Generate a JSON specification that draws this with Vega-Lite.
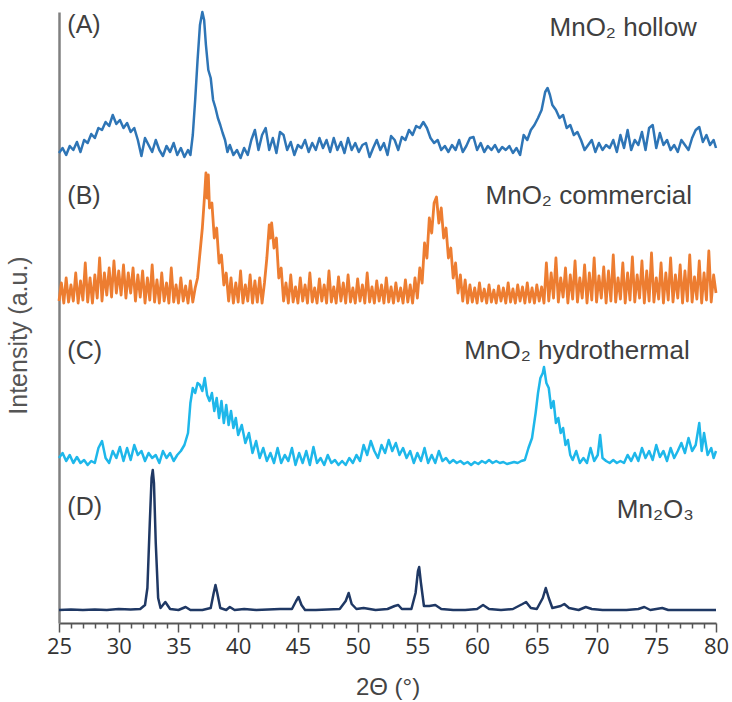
{
"$schema": "https://vega.github.io/schema/vega-lite/v6.json",
"width": 657, "height": 611,
"autosize": {"type": "none"},
"padding": {"left": 59, "top": 12, "right": 16, "bottom": 79},
"background": "white",
"config": {"view": {"stroke": null}},
"datasets": {
"A": [
{"t":25.0,"i":470},{"t":25.3,"i":475},{"t":25.6,"i":468},{"t":25.9,"i":477},{"t":26.2,"i":473},{"t":26.5,"i":481},{"t":26.8,"i":471},{"t":27.1,"i":483},{"t":27.4,"i":480},{"t":27.7,"i":489},{"t":28.0,"i":485},{"t":28.3,"i":495},{"t":28.6,"i":493},{"t":28.9,"i":501},{"t":29.2,"i":497},{"t":29.5,"i":508},{"t":29.8,"i":499},{"t":30.1,"i":503},{"t":30.4,"i":495},{"t":30.7,"i":500},{"t":31.0,"i":491},{"t":31.3,"i":495},{"t":31.6,"i":483},{"t":31.9,"i":467},{"t":32.2,"i":485},{"t":32.5,"i":478},{"t":32.8,"i":471},{"t":33.1,"i":483},{"t":33.4,"i":473},{"t":33.7,"i":467},{"t":34.0,"i":477},{"t":34.3,"i":471},{"t":34.6,"i":480},{"t":34.9,"i":468},{"t":35.2,"i":475},{"t":35.5,"i":466},{"t":35.8,"i":473},{"t":36.0,"i":468},{"t":36.2,"i":488},{"t":36.4,"i":523},{"t":36.6,"i":563},{"t":36.8,"i":598},{"t":37.0,"i":611},{"t":37.15,"i":603},{"t":37.3,"i":578},{"t":37.5,"i":553},{"t":37.7,"i":545},{"t":37.9,"i":523},{"t":38.1,"i":515},{"t":38.3,"i":505},{"t":38.5,"i":498},{"t":38.7,"i":490},{"t":38.9,"i":483},{"t":39.1,"i":471},{"t":39.3,"i":478},{"t":39.6,"i":468},{"t":39.9,"i":473},{"t":40.2,"i":465},{"t":40.5,"i":475},{"t":40.8,"i":468},{"t":41.1,"i":483},{"t":41.4,"i":493},{"t":41.7,"i":473},{"t":42.0,"i":488},{"t":42.3,"i":495},{"t":42.6,"i":473},{"t":42.9,"i":485},{"t":43.2,"i":470},{"t":43.5,"i":491},{"t":43.8,"i":488},{"t":44.1,"i":473},{"t":44.4,"i":481},{"t":44.7,"i":468},{"t":45.0,"i":478},{"t":45.3,"i":475},{"t":45.6,"i":483},{"t":45.9,"i":471},{"t":46.2,"i":480},{"t":46.5,"i":473},{"t":46.8,"i":485},{"t":47.1,"i":475},{"t":47.4,"i":483},{"t":47.7,"i":471},{"t":48.0,"i":485},{"t":48.3,"i":473},{"t":48.6,"i":481},{"t":48.9,"i":470},{"t":49.2,"i":485},{"t":49.5,"i":473},{"t":49.8,"i":480},{"t":50.1,"i":471},{"t":50.4,"i":478},{"t":50.7,"i":480},{"t":51.0,"i":466},{"t":51.3,"i":475},{"t":51.6,"i":483},{"t":51.9,"i":473},{"t":52.2,"i":480},{"t":52.5,"i":468},{"t":52.8,"i":487},{"t":53.1,"i":483},{"t":53.4,"i":473},{"t":53.7,"i":486},{"t":54.0,"i":483},{"t":54.3,"i":493},{"t":54.6,"i":488},{"t":54.9,"i":497},{"t":55.2,"i":495},{"t":55.5,"i":501},{"t":55.8,"i":495},{"t":56.1,"i":485},{"t":56.4,"i":480},{"t":56.7,"i":483},{"t":57.0,"i":473},{"t":57.3,"i":477},{"t":57.6,"i":471},{"t":57.9,"i":478},{"t":58.2,"i":473},{"t":58.5,"i":483},{"t":58.8,"i":471},{"t":59.1,"i":477},{"t":59.4,"i":485},{"t":59.7,"i":486},{"t":60.0,"i":473},{"t":60.3,"i":480},{"t":60.6,"i":471},{"t":60.9,"i":477},{"t":61.2,"i":473},{"t":61.5,"i":478},{"t":61.8,"i":471},{"t":62.1,"i":476},{"t":62.4,"i":473},{"t":62.7,"i":477},{"t":63.0,"i":470},{"t":63.3,"i":475},{"t":63.6,"i":468},{"t":63.9,"i":488},{"t":64.2,"i":483},{"t":64.5,"i":493},{"t":64.8,"i":498},{"t":65.1,"i":505},{"t":65.4,"i":513},{"t":65.7,"i":531},{"t":65.9,"i":535},{"t":66.1,"i":528},{"t":66.3,"i":518},{"t":66.6,"i":513},{"t":66.9,"i":505},{"t":67.2,"i":508},{"t":67.5,"i":495},{"t":67.8,"i":498},{"t":68.1,"i":488},{"t":68.4,"i":491},{"t":68.7,"i":483},{"t":69.0,"i":473},{"t":69.3,"i":478},{"t":69.6,"i":483},{"t":69.9,"i":471},{"t":70.2,"i":480},{"t":70.5,"i":473},{"t":70.8,"i":478},{"t":71.1,"i":475},{"t":71.4,"i":483},{"t":71.7,"i":471},{"t":72.0,"i":488},{"t":72.3,"i":475},{"t":72.6,"i":493},{"t":72.9,"i":473},{"t":73.2,"i":483},{"t":73.5,"i":478},{"t":73.8,"i":491},{"t":74.1,"i":473},{"t":74.4,"i":495},{"t":74.7,"i":498},{"t":75.0,"i":475},{"t":75.3,"i":490},{"t":75.6,"i":478},{"t":75.9,"i":483},{"t":76.2,"i":473},{"t":76.5,"i":478},{"t":76.8,"i":471},{"t":77.1,"i":483},{"t":77.4,"i":478},{"t":77.7,"i":473},{"t":78.0,"i":485},{"t":78.3,"i":493},{"t":78.6,"i":496},{"t":78.9,"i":481},{"t":79.2,"i":488},{"t":79.5,"i":478},{"t":79.8,"i":483},{"t":80.0,"i":475}
],
"B": [
{"t":25.0,"i":322},{"t":25.2,"i":340},{"t":25.4,"i":320},{"t":25.6,"i":345},{"t":25.8,"i":321},{"t":26.0,"i":338},{"t":26.2,"i":322},{"t":26.4,"i":350},{"t":26.6,"i":320},{"t":26.8,"i":342},{"t":27.0,"i":323},{"t":27.2,"i":360},{"t":27.4,"i":321},{"t":27.6,"i":345},{"t":27.8,"i":320},{"t":28.0,"i":348},{"t":28.2,"i":325},{"t":28.4,"i":365},{"t":28.6,"i":322},{"t":28.8,"i":350},{"t":29.0,"i":328},{"t":29.2,"i":355},{"t":29.4,"i":326},{"t":29.6,"i":362},{"t":29.8,"i":330},{"t":30.0,"i":352},{"t":30.2,"i":328},{"t":30.4,"i":358},{"t":30.6,"i":325},{"t":30.8,"i":350},{"t":31.0,"i":330},{"t":31.2,"i":355},{"t":31.4,"i":322},{"t":31.6,"i":348},{"t":31.8,"i":326},{"t":32.0,"i":352},{"t":32.2,"i":320},{"t":32.4,"i":345},{"t":32.6,"i":323},{"t":32.8,"i":358},{"t":33.0,"i":321},{"t":33.2,"i":343},{"t":33.4,"i":320},{"t":33.6,"i":350},{"t":33.8,"i":322},{"t":34.0,"i":340},{"t":34.2,"i":320},{"t":34.4,"i":355},{"t":34.6,"i":321},{"t":34.8,"i":338},{"t":35.0,"i":320},{"t":35.2,"i":345},{"t":35.4,"i":322},{"t":35.6,"i":337},{"t":35.8,"i":320},{"t":36.0,"i":342},{"t":36.2,"i":321},{"t":36.4,"i":335},{"t":36.6,"i":345},{"t":36.8,"i":370},{"t":37.0,"i":395},{"t":37.2,"i":430},{"t":37.3,"i":450},{"t":37.4,"i":425},{"t":37.5,"i":448},{"t":37.6,"i":415},{"t":37.8,"i":420},{"t":38.0,"i":385},{"t":38.2,"i":395},{"t":38.4,"i":360},{"t":38.6,"i":368},{"t":38.8,"i":338},{"t":39.0,"i":350},{"t":39.2,"i":322},{"t":39.4,"i":345},{"t":39.6,"i":320},{"t":39.8,"i":340},{"t":40.0,"i":321},{"t":40.2,"i":352},{"t":40.4,"i":320},{"t":40.6,"i":338},{"t":40.8,"i":322},{"t":41.0,"i":348},{"t":41.2,"i":320},{"t":41.4,"i":342},{"t":41.6,"i":321},{"t":41.8,"i":345},{"t":42.0,"i":320},{"t":42.2,"i":340},{"t":42.4,"i":365},{"t":42.6,"i":398},{"t":42.7,"i":385},{"t":42.8,"i":400},{"t":43.0,"i":375},{"t":43.2,"i":385},{"t":43.4,"i":345},{"t":43.6,"i":355},{"t":43.8,"i":322},{"t":44.0,"i":340},{"t":44.2,"i":320},{"t":44.4,"i":348},{"t":44.6,"i":321},{"t":44.8,"i":336},{"t":45.0,"i":320},{"t":45.2,"i":345},{"t":45.4,"i":322},{"t":45.6,"i":338},{"t":45.8,"i":320},{"t":46.0,"i":350},{"t":46.2,"i":321},{"t":46.4,"i":335},{"t":46.6,"i":320},{"t":46.8,"i":344},{"t":47.0,"i":322},{"t":47.2,"i":338},{"t":47.4,"i":320},{"t":47.6,"i":352},{"t":47.8,"i":321},{"t":48.0,"i":336},{"t":48.2,"i":320},{"t":48.4,"i":346},{"t":48.6,"i":322},{"t":48.8,"i":340},{"t":49.0,"i":320},{"t":49.2,"i":348},{"t":49.4,"i":321},{"t":49.6,"i":335},{"t":49.8,"i":320},{"t":50.0,"i":344},{"t":50.2,"i":322},{"t":50.4,"i":338},{"t":50.6,"i":320},{"t":50.8,"i":350},{"t":51.0,"i":321},{"t":51.2,"i":336},{"t":51.4,"i":320},{"t":51.6,"i":342},{"t":51.8,"i":322},{"t":52.0,"i":338},{"t":52.2,"i":320},{"t":52.4,"i":345},{"t":52.6,"i":321},{"t":52.8,"i":336},{"t":53.0,"i":320},{"t":53.2,"i":340},{"t":53.4,"i":322},{"t":53.6,"i":335},{"t":53.8,"i":320},{"t":54.0,"i":343},{"t":54.2,"i":321},{"t":54.4,"i":338},{"t":54.6,"i":320},{"t":54.8,"i":345},{"t":55.0,"i":325},{"t":55.2,"i":355},{"t":55.4,"i":340},{"t":55.6,"i":380},{"t":55.8,"i":365},{"t":56.0,"i":405},{"t":56.2,"i":390},{"t":56.4,"i":420},{"t":56.6,"i":426},{"t":56.8,"i":400},{"t":57.0,"i":415},{"t":57.2,"i":385},{"t":57.4,"i":395},{"t":57.6,"i":365},{"t":57.8,"i":375},{"t":58.0,"i":345},{"t":58.2,"i":360},{"t":58.4,"i":330},{"t":58.6,"i":348},{"t":58.8,"i":322},{"t":59.0,"i":343},{"t":59.2,"i":320},{"t":59.4,"i":338},{"t":59.6,"i":321},{"t":59.8,"i":335},{"t":60.0,"i":320},{"t":60.2,"i":340},{"t":60.4,"i":322},{"t":60.6,"i":334},{"t":60.8,"i":320},{"t":61.0,"i":338},{"t":61.2,"i":321},{"t":61.4,"i":333},{"t":61.6,"i":320},{"t":61.8,"i":337},{"t":62.0,"i":322},{"t":62.2,"i":335},{"t":62.4,"i":320},{"t":62.6,"i":340},{"t":62.8,"i":321},{"t":63.0,"i":334},{"t":63.2,"i":320},{"t":63.4,"i":338},{"t":63.6,"i":322},{"t":63.8,"i":336},{"t":64.0,"i":320},{"t":64.2,"i":340},{"t":64.4,"i":321},{"t":64.6,"i":335},{"t":64.8,"i":320},{"t":65.0,"i":338},{"t":65.2,"i":322},{"t":65.4,"i":336},{"t":65.6,"i":320},{"t":65.8,"i":360},{"t":66.0,"i":322},{"t":66.2,"i":350},{"t":66.4,"i":325},{"t":66.6,"i":365},{"t":66.8,"i":321},{"t":67.0,"i":345},{"t":67.2,"i":326},{"t":67.4,"i":355},{"t":67.6,"i":320},{"t":67.8,"i":348},{"t":68.0,"i":324},{"t":68.2,"i":362},{"t":68.4,"i":321},{"t":68.6,"i":345},{"t":68.8,"i":325},{"t":69.0,"i":358},{"t":69.2,"i":320},{"t":69.4,"i":350},{"t":69.6,"i":323},{"t":69.8,"i":365},{"t":70.0,"i":321},{"t":70.2,"i":347},{"t":70.4,"i":325},{"t":70.6,"i":356},{"t":70.8,"i":320},{"t":71.0,"i":352},{"t":71.2,"i":322},{"t":71.4,"i":368},{"t":71.6,"i":321},{"t":71.8,"i":345},{"t":72.0,"i":324},{"t":72.2,"i":360},{"t":72.4,"i":320},{"t":72.6,"i":350},{"t":72.8,"i":323},{"t":73.0,"i":366},{"t":73.2,"i":321},{"t":73.4,"i":348},{"t":73.6,"i":325},{"t":73.8,"i":362},{"t":74.0,"i":320},{"t":74.2,"i":352},{"t":74.4,"i":322},{"t":74.6,"i":370},{"t":74.8,"i":321},{"t":75.0,"i":345},{"t":75.2,"i":324},{"t":75.4,"i":360},{"t":75.6,"i":320},{"t":75.8,"i":350},{"t":76.0,"i":323},{"t":76.2,"i":365},{"t":76.4,"i":321},{"t":76.6,"i":348},{"t":76.8,"i":325},{"t":77.0,"i":358},{"t":77.2,"i":320},{"t":77.4,"i":352},{"t":77.6,"i":322},{"t":77.8,"i":368},{"t":78.0,"i":321},{"t":78.2,"i":346},{"t":78.4,"i":324},{"t":78.6,"i":362},{"t":78.8,"i":320},{"t":79.0,"i":350},{"t":79.2,"i":323},{"t":79.4,"i":372},{"t":79.6,"i":321},{"t":79.8,"i":348},{"t":80.0,"i":330}
],
"C": [
{"t":25.0,"i":165},{"t":25.3,"i":170},{"t":25.6,"i":162},{"t":25.9,"i":168},{"t":26.2,"i":160},{"t":26.5,"i":166},{"t":26.8,"i":160},{"t":27.1,"i":163},{"t":27.4,"i":158},{"t":27.7,"i":162},{"t":28.0,"i":160},{"t":28.3,"i":175},{"t":28.6,"i":182},{"t":28.9,"i":165},{"t":29.2,"i":160},{"t":29.5,"i":172},{"t":29.8,"i":165},{"t":30.1,"i":176},{"t":30.4,"i":162},{"t":30.7,"i":175},{"t":31.0,"i":163},{"t":31.3,"i":178},{"t":31.6,"i":168},{"t":31.9,"i":172},{"t":32.2,"i":162},{"t":32.5,"i":170},{"t":32.8,"i":165},{"t":33.1,"i":168},{"t":33.4,"i":160},{"t":33.7,"i":172},{"t":34.0,"i":165},{"t":34.3,"i":170},{"t":34.6,"i":162},{"t":34.9,"i":168},{"t":35.2,"i":172},{"t":35.5,"i":178},{"t":35.8,"i":190},{"t":36.0,"i":220},{"t":36.2,"i":235},{"t":36.4,"i":230},{"t":36.6,"i":240},{"t":36.8,"i":238},{"t":37.0,"i":232},{"t":37.2,"i":245},{"t":37.4,"i":228},{"t":37.6,"i":222},{"t":37.8,"i":230},{"t":38.0,"i":212},{"t":38.2,"i":225},{"t":38.4,"i":205},{"t":38.6,"i":222},{"t":38.8,"i":200},{"t":39.0,"i":218},{"t":39.2,"i":198},{"t":39.4,"i":212},{"t":39.6,"i":195},{"t":39.8,"i":205},{"t":40.0,"i":188},{"t":40.3,"i":198},{"t":40.6,"i":180},{"t":40.9,"i":190},{"t":41.2,"i":170},{"t":41.5,"i":182},{"t":41.8,"i":165},{"t":42.1,"i":175},{"t":42.4,"i":162},{"t":42.7,"i":170},{"t":43.0,"i":160},{"t":43.3,"i":175},{"t":43.6,"i":160},{"t":43.9,"i":168},{"t":44.2,"i":162},{"t":44.5,"i":175},{"t":44.8,"i":158},{"t":45.1,"i":170},{"t":45.4,"i":160},{"t":45.7,"i":172},{"t":46.0,"i":158},{"t":46.3,"i":176},{"t":46.6,"i":160},{"t":46.9,"i":165},{"t":47.2,"i":158},{"t":47.5,"i":168},{"t":47.8,"i":160},{"t":48.1,"i":163},{"t":48.4,"i":158},{"t":48.7,"i":162},{"t":49.0,"i":158},{"t":49.3,"i":165},{"t":49.6,"i":160},{"t":49.9,"i":168},{"t":50.2,"i":162},{"t":50.5,"i":178},{"t":50.8,"i":168},{"t":51.1,"i":182},{"t":51.4,"i":172},{"t":51.7,"i":165},{"t":52.0,"i":178},{"t":52.3,"i":170},{"t":52.6,"i":183},{"t":52.9,"i":172},{"t":53.2,"i":180},{"t":53.5,"i":168},{"t":53.8,"i":175},{"t":54.1,"i":165},{"t":54.4,"i":172},{"t":54.7,"i":160},{"t":55.0,"i":170},{"t":55.3,"i":162},{"t":55.6,"i":175},{"t":55.9,"i":160},{"t":56.2,"i":168},{"t":56.5,"i":160},{"t":56.8,"i":172},{"t":57.1,"i":162},{"t":57.4,"i":165},{"t":57.7,"i":160},{"t":58.0,"i":163},{"t":58.3,"i":160},{"t":58.6,"i":162},{"t":58.9,"i":159},{"t":59.2,"i":161},{"t":59.5,"i":158},{"t":59.8,"i":161},{"t":60.1,"i":159},{"t":60.4,"i":162},{"t":60.7,"i":160},{"t":61.0,"i":163},{"t":61.3,"i":160},{"t":61.6,"i":162},{"t":61.9,"i":160},{"t":62.2,"i":161},{"t":62.5,"i":159},{"t":62.8,"i":160},{"t":63.1,"i":161},{"t":63.4,"i":160},{"t":63.7,"i":162},{"t":64.0,"i":163},{"t":64.3,"i":175},{"t":64.6,"i":185},{"t":64.9,"i":210},{"t":65.1,"i":230},{"t":65.3,"i":245},{"t":65.5,"i":250},{"t":65.6,"i":256},{"t":65.8,"i":240},{"t":66.0,"i":235},{"t":66.2,"i":215},{"t":66.4,"i":222},{"t":66.6,"i":200},{"t":66.8,"i":205},{"t":67.0,"i":190},{"t":67.2,"i":195},{"t":67.4,"i":178},{"t":67.6,"i":183},{"t":67.8,"i":168},{"t":68.0,"i":163},{"t":68.3,"i":172},{"t":68.6,"i":160},{"t":68.9,"i":165},{"t":69.2,"i":160},{"t":69.5,"i":175},{"t":69.8,"i":162},{"t":70.1,"i":168},{"t":70.3,"i":188},{"t":70.5,"i":165},{"t":70.8,"i":162},{"t":71.1,"i":160},{"t":71.4,"i":163},{"t":71.7,"i":160},{"t":72.0,"i":162},{"t":72.3,"i":160},{"t":72.6,"i":168},{"t":72.9,"i":162},{"t":73.2,"i":170},{"t":73.5,"i":162},{"t":73.8,"i":175},{"t":74.1,"i":165},{"t":74.4,"i":172},{"t":74.7,"i":163},{"t":75.0,"i":178},{"t":75.3,"i":166},{"t":75.6,"i":172},{"t":75.9,"i":162},{"t":76.2,"i":175},{"t":76.5,"i":165},{"t":76.8,"i":172},{"t":77.1,"i":180},{"t":77.4,"i":170},{"t":77.7,"i":185},{"t":78.0,"i":172},{"t":78.3,"i":178},{"t":78.6,"i":200},{"t":78.8,"i":172},{"t":79.0,"i":190},{"t":79.3,"i":168},{"t":79.6,"i":175},{"t":79.8,"i":165},{"t":80.0,"i":172}
],
"D": [
{"t":25.0,"i":13},{"t":26.0,"i":13.5},{"t":27.0,"i":13},{"t":28.0,"i":13.5},{"t":29.0,"i":13},{"t":30.0,"i":14},{"t":31.0,"i":13.5},{"t":31.8,"i":14},{"t":32.2,"i":18},{"t":32.4,"i":35},{"t":32.6,"i":100},{"t":32.75,"i":145},{"t":32.85,"i":153},{"t":32.95,"i":140},{"t":33.1,"i":80},{"t":33.3,"i":25},{"t":33.5,"i":15},{"t":33.9,"i":21},{"t":34.3,"i":14},{"t":35.0,"i":13},{"t":35.6,"i":16},{"t":36.0,"i":13},{"t":37.0,"i":13},{"t":37.7,"i":15},{"t":37.95,"i":30},{"t":38.1,"i":38},{"t":38.25,"i":30},{"t":38.5,"i":15},{"t":39.0,"i":13},{"t":39.3,"i":16},{"t":39.7,"i":13},{"t":40.5,"i":14},{"t":41.5,"i":13},{"t":42.5,"i":13.5},{"t":43.5,"i":14},{"t":44.5,"i":14},{"t":44.85,"i":22},{"t":45.05,"i":26},{"t":45.3,"i":18},{"t":45.6,"i":13},{"t":46.5,"i":13},{"t":47.5,"i":13.5},{"t":48.5,"i":14},{"t":49.0,"i":22},{"t":49.25,"i":30},{"t":49.5,"i":19},{"t":49.9,"i":14},{"t":50.5,"i":15},{"t":51.5,"i":13},{"t":52.5,"i":14},{"t":53.1,"i":17},{"t":53.4,"i":18},{"t":53.7,"i":14},{"t":54.5,"i":14},{"t":54.85,"i":30},{"t":55.05,"i":52},{"t":55.15,"i":56},{"t":55.3,"i":40},{"t":55.55,"i":17},{"t":56.0,"i":17},{"t":56.5,"i":18},{"t":57.0,"i":14},{"t":58.0,"i":13},{"t":59.0,"i":13},{"t":60.0,"i":14},{"t":60.5,"i":18},{"t":61.0,"i":14},{"t":62.0,"i":13},{"t":63.0,"i":14},{"t":63.8,"i":19},{"t":64.1,"i":21},{"t":64.5,"i":15},{"t":65.0,"i":14},{"t":65.5,"i":25},{"t":65.75,"i":35},{"t":66.0,"i":25},{"t":66.3,"i":15},{"t":67.0,"i":17},{"t":67.3,"i":19},{"t":67.7,"i":15},{"t":68.5,"i":13},{"t":69.1,"i":16},{"t":69.6,"i":14},{"t":70.5,"i":13},{"t":71.5,"i":13},{"t":72.5,"i":13},{"t":73.5,"i":14},{"t":74.0,"i":16},{"t":74.5,"i":13},{"t":75.5,"i":15},{"t":76.0,"i":13},{"t":77.0,"i":13},{"t":78.0,"i":13},{"t":79.0,"i":13},{"t":80.0,"i":13}
],
"letters": [
{"t":25.7,"i":598,"label":"(A)"},{"t":25.7,"i":427,"label":"(B)"},{"t":25.7,"i":272,"label":"(C)"},{"t":25.7,"i":116,"label":"(D)"}
],
"names": [
{"t":78.4,"i":595,"label":"MnO₂ hollow"},{"t":78.0,"i":427,"label":"MnO₂ commercial"},{"t":77.8,"i":272,"label":"MnO₂ hydrothermal"},{"t":78.15,"i":113,"label":"Mn₂O₃"}
]
},
"encoding": {
"x": {"field": "t", "type": "quantitative",
 "scale": {"domain": [25, 80], "nice": false, "zero": false},
 "axis": {"title": "2Θ (°)", "values": [25,26,27,28,29,30,31,32,33,34,35,36,37,38,39,40,41,42,43,44,45,46,47,48,49,50,51,52,53,54,55,56,57,58,59,60,61,62,63,64,65,66,67,68,69,70,71,72,73,74,75,76,77,78,79,80],
  "labelExpr": "datum.value % 5 === 0 ? datum.label : ''",
  "labelOverlap": false, "labelFlush": false, "grid": false,
  "domainColor": "#555555", "domainWidth": 2,
  "tickColor": "#555555", "tickWidth": 1.5,
  "tickSize": {"condition": {"test": "datum.value % 5 === 0", "value": 9}, "value": 5},
  "labelFont": "Open Sans", "labelFontSize": 22, "labelColor": "#333333", "labelPadding": 4,
  "titleFont": "Liberation Sans", "titleFontSize": 24, "titleFontWeight": "normal", "titleColor": "#444444", "titlePadding": 18}},
"y": {"field": "i", "type": "quantitative",
 "scale": {"domain": [0, 611], "nice": false},
 "axis": {"title": "Intensity (a.u.)", "labels": false, "ticks": false, "grid": false,
  "domainColor": "#808080", "domainWidth": 2.5,
  "titleFont": "Liberation Sans", "titleFontSize": 25, "titleFontWeight": "normal", "titleColor": "#555555", "titlePadding": 28, "titleY": 323}}
},
"layer": [
{"data": {"name": "A"}, "mark": {"type": "line", "color": "#2e75b6", "strokeWidth": 2.5, "strokeJoin": "round"}},
{"data": {"name": "B"}, "mark": {"type": "line", "color": "#ed7d31", "strokeWidth": 2.8, "strokeJoin": "round"}},
{"data": {"name": "C"}, "mark": {"type": "line", "color": "#1eb7ea", "strokeWidth": 2.5, "strokeJoin": "round"}},
{"data": {"name": "D"}, "mark": {"type": "line", "color": "#1f3864", "strokeWidth": 2.5, "strokeJoin": "round"}},
{"data": {"name": "letters"}, "mark": {"type": "text", "align": "left", "baseline": "middle", "font": "Liberation Sans", "fontSize": 25, "color": "#404040"},
 "encoding": {"text": {"field": "label"}}},
{"data": {"name": "names"}, "mark": {"type": "text", "align": "right", "baseline": "middle", "font": "Liberation Sans", "fontSize": 26, "color": "#404040"},
 "encoding": {"text": {"field": "label"}}}
]
}
